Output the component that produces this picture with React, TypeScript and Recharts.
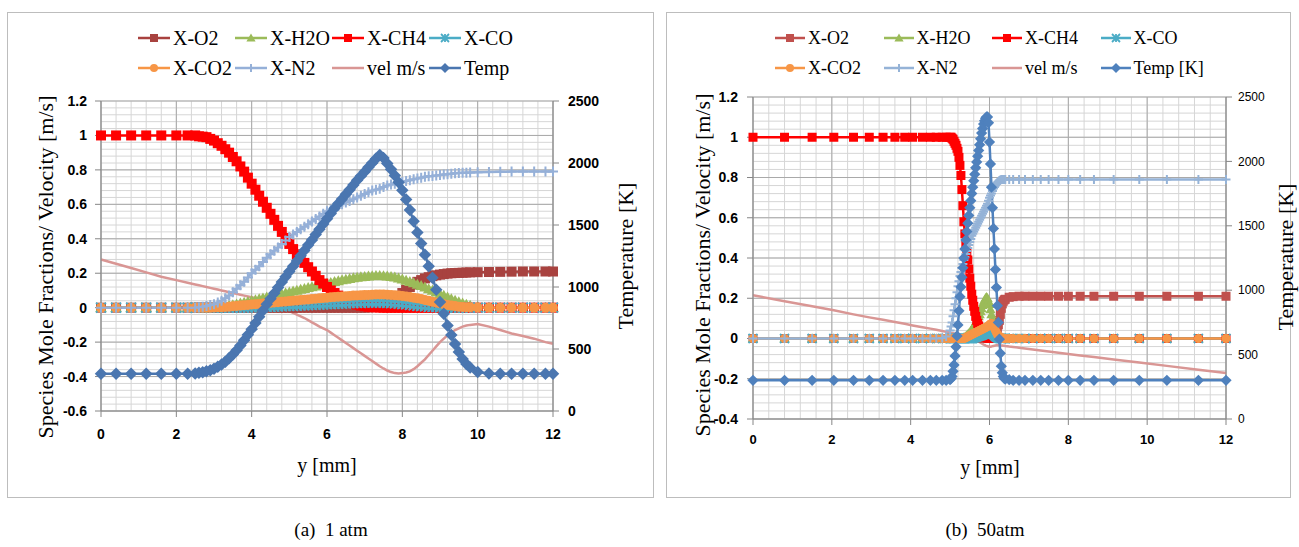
import React from "react";
import { LineChart, Line, XAxis, YAxis, CartesianGrid, Legend } from "recharts";

// ---------- (a) 1 atm ----------
const xA = [
  0, 0.4, 0.8, 1.2, 1.6, 2.0, 2.3, 2.5,
  2.6, 2.7, 2.8, 2.9, 3.0, 3.1, 3.2, 3.3, 3.4, 3.5,
  3.6, 3.7, 3.8, 3.9, 4.0, 4.1, 4.2, 4.3, 4.4, 4.5,
  4.6, 4.7, 4.8, 4.9, 5.0, 5.1, 5.2, 5.3, 5.4, 5.5,
  5.6, 5.7, 5.8, 5.9, 6.0, 6.1, 6.2, 6.3, 6.4, 6.5,
  6.6, 6.7, 6.8, 6.9, 7.0, 7.1, 7.2, 7.3, 7.4, 7.5,
  7.6, 7.7, 7.8, 7.9, 8.0, 8.1, 8.2, 8.3, 8.4, 8.5,
  8.6, 8.7, 8.8, 8.9, 9.0, 9.1, 9.2, 9.3, 9.4, 9.5,
  9.6, 9.7, 9.8,
  10.0, 10.3, 10.6, 10.9, 11.2, 11.5, 11.8, 12.0,
];
const o2A = [
  0, 0, 0, 0, 0, 0, 0, 0,
  0, 0, 0, 0, 0, 0, 0, 0, 0, 0,
  0, 0, 0, 0, 0, 0, 0, 0, 0, 0,
  0, 0, 0, 0, 0, 0, 0, 0, 0, 0,
  0, 0, 0, 0, 0, 0, 0, 0, 0, 0,
  0, 0, 0, 0, 0, 0.001, 0.003, 0.005, 0.008, 0.014,
  0.022, 0.035, 0.05, 0.067, 0.085, 0.103, 0.12, 0.135, 0.15, 0.16,
  0.17, 0.177, 0.183, 0.188, 0.192, 0.195, 0.198, 0.2, 0.201, 0.202,
  0.203, 0.204, 0.205,
  0.206, 0.207, 0.208, 0.209, 0.21, 0.21, 0.21, 0.21,
];
const h2oA = [
  0, 0, 0, 0, 0, 0, 0, 0,
  0, 0, 0, 0.001, 0.002, 0.004, 0.006, 0.009, 0.012, 0.016,
  0.02, 0.025, 0.03, 0.035, 0.04, 0.045, 0.05, 0.055, 0.06, 0.065,
  0.07, 0.075, 0.08, 0.085, 0.09, 0.095, 0.1, 0.105, 0.11, 0.115,
  0.12, 0.125, 0.13, 0.135, 0.14, 0.145, 0.15, 0.155, 0.16, 0.164,
  0.168, 0.172, 0.175, 0.178, 0.18, 0.182, 0.184, 0.185, 0.185, 0.184,
  0.183, 0.18, 0.176, 0.171, 0.165, 0.158, 0.15, 0.143, 0.135, 0.127,
  0.118, 0.109, 0.1, 0.09, 0.08, 0.07, 0.06, 0.051, 0.042, 0.033,
  0.025, 0.018, 0.012,
  0.005, 0.001, 0, 0, 0, 0, 0, 0,
];
const ch4A = [
  1, 1, 1, 1, 1, 1, 1, 1,
  0.995, 0.993, 0.99, 0.98, 0.97, 0.955, 0.94, 0.92, 0.9, 0.875,
  0.85, 0.82, 0.79, 0.755, 0.72, 0.685, 0.65, 0.615, 0.58, 0.545,
  0.51, 0.475, 0.44, 0.405, 0.37, 0.34, 0.31, 0.285, 0.26, 0.235,
  0.21, 0.185, 0.16, 0.14, 0.12, 0.1, 0.085, 0.07, 0.055, 0.044,
  0.033, 0.025, 0.018, 0.012, 0.008, 0.005, 0.003, 0.002, 0.001, 0,
  0, 0, 0, 0, 0, 0, 0, 0, 0, 0,
  0, 0, 0, 0, 0, 0, 0, 0, 0, 0,
  0, 0, 0,
  0, 0, 0, 0, 0, 0, 0, 0,
];
const coA = [
  0, 0, 0, 0, 0, 0, 0, 0,
  0, 0, 0, 0, 0, 0, 0, 0, 0, 0,
  0, 0, 0.001, 0.001, 0.002, 0.002, 0.003, 0.003, 0.004, 0.005,
  0.006, 0.007, 0.008, 0.009, 0.01, 0.011, 0.012, 0.013, 0.014, 0.015,
  0.016, 0.017, 0.018, 0.019, 0.02, 0.021, 0.022, 0.023, 0.024, 0.025,
  0.026, 0.027, 0.028, 0.028, 0.029, 0.03, 0.03, 0.03, 0.03, 0.029,
  0.028, 0.027, 0.025, 0.023, 0.021, 0.019, 0.016, 0.013, 0.011, 0.009,
  0.007, 0.005, 0.004, 0.003, 0.002, 0.001, 0.001, 0, 0, 0,
  0, 0, 0,
  0, 0, 0, 0, 0, 0, 0, 0,
];
const co2A = [
  0, 0, 0, 0, 0, 0, 0, 0,
  0, 0, 0, 0, 0.001, 0.002, 0.003, 0.004, 0.006, 0.008,
  0.01, 0.012, 0.014, 0.016, 0.018, 0.02, 0.022, 0.024, 0.026, 0.028,
  0.03, 0.032, 0.034, 0.036, 0.038, 0.04, 0.042, 0.044, 0.046, 0.048,
  0.05, 0.052, 0.054, 0.056, 0.058, 0.06, 0.062, 0.064, 0.065, 0.067,
  0.068, 0.07, 0.071, 0.072, 0.073, 0.074, 0.075, 0.076, 0.076, 0.076,
  0.075, 0.074, 0.072, 0.07, 0.068, 0.065, 0.062, 0.058, 0.054, 0.05,
  0.045, 0.04, 0.035, 0.03, 0.025, 0.02, 0.016, 0.012, 0.009, 0.006,
  0.004, 0.003, 0.002,
  0.001, 0, 0, 0, 0, 0, 0, 0,
];
const n2A = [
  0, 0, 0, 0, 0, 0, 0, 0,
  0.003, 0.006, 0.01, 0.015, 0.02, 0.03, 0.04, 0.055, 0.07, 0.09,
  0.11, 0.13, 0.15, 0.175, 0.2, 0.22, 0.24, 0.265, 0.29, 0.31,
  0.33, 0.35, 0.37, 0.39, 0.41, 0.425, 0.44, 0.455, 0.47, 0.485,
  0.5, 0.515, 0.53, 0.545, 0.56, 0.57, 0.58, 0.59, 0.6, 0.61,
  0.62, 0.63, 0.64, 0.65, 0.66, 0.67, 0.68, 0.685, 0.69, 0.7,
  0.71, 0.715, 0.72, 0.725, 0.73, 0.735, 0.74, 0.745, 0.75, 0.755,
  0.76, 0.763, 0.765, 0.768, 0.77, 0.773, 0.775, 0.778, 0.78, 0.782,
  0.783, 0.784, 0.785,
  0.787, 0.788, 0.789, 0.79, 0.79, 0.79, 0.79, 0.79,
];
const velA = [
  0.28, 0.255, 0.23, 0.205, 0.18, 0.16, 0.145, 0.135,
  0.13, 0.125, 0.12, 0.115, 0.11, 0.105, 0.1, 0.095, 0.09, 0.085,
  0.08, 0.075, 0.07, 0.065, 0.06, 0.055, 0.05, 0.043, 0.035, 0.028,
  0.02, 0.01, 0.0, -0.01, -0.02, -0.03, -0.04, -0.05, -0.06, -0.072,
  -0.085, -0.097, -0.11, -0.12, -0.13, -0.145, -0.16, -0.175, -0.19, -0.205,
  -0.22, -0.235, -0.25, -0.265, -0.28, -0.295, -0.31, -0.325, -0.34, -0.353,
  -0.365, -0.374, -0.38, -0.382, -0.38, -0.376, -0.37, -0.357, -0.34, -0.32,
  -0.3, -0.275, -0.25, -0.225, -0.2, -0.18, -0.16, -0.145, -0.13, -0.12,
  -0.11, -0.104, -0.1,
  -0.095, -0.11, -0.13, -0.15, -0.165, -0.18, -0.2, -0.21,
];
const tempA = [
  300, 300, 300, 300, 300, 300, 301, 303,
  308, 313, 320, 329, 340, 356, 375, 398, 425, 455,
  490, 528, 570, 614, 660, 710, 760, 810, 860, 905,
  950, 995, 1040, 1083, 1125, 1168, 1210, 1253, 1295, 1338,
  1380, 1423, 1465, 1508, 1550, 1593, 1635, 1673, 1710, 1748,
  1785, 1823, 1860, 1895, 1930, 1965, 2000, 2035, 2065, 2040,
  1995, 1950, 1900, 1845, 1780, 1705, 1620, 1530, 1440, 1350,
  1260, 1168, 1075, 978, 880, 785, 690, 612, 540, 475,
  420, 380, 350,
  315, 302, 300, 300, 300, 300, 300, 300,
];

// ---------- (b) 50 atm ----------
const xB = [
  0, 0.8, 1.5, 2.05, 2.55, 2.95, 3.3, 3.6, 3.85, 4.05, 4.3, 4.5, 4.65, 4.8, 4.9,
  5.0, 5.025, 5.05, 5.075, 5.1, 5.125, 5.15, 5.175,
  5.2, 5.225, 5.25, 5.275, 5.3, 5.325, 5.35, 5.375,
  5.4, 5.425, 5.45, 5.475, 5.5, 5.525, 5.55, 5.575,
  5.6, 5.625, 5.65, 5.675, 5.7, 5.725, 5.75, 5.775,
  5.8, 5.825, 5.85, 5.875, 5.9, 5.925, 5.95, 5.975,
  6.0, 6.025, 6.05, 6.075, 6.1, 6.125, 6.15, 6.175,
  6.2, 6.225, 6.25, 6.275, 6.3, 6.325, 6.35, 6.375,
  6.4,
  6.5, 6.6, 6.75, 6.9, 7.1, 7.3, 7.5, 7.75, 8.0, 8.3, 8.65, 9.15, 9.8, 10.5, 11.3, 12,
];
const o2B = [
  0, 0, 0, 0, 0, 0, 0, 0, 0, 0, 0, 0, 0, 0, 0,
  0, 0, 0, 0, 0, 0, 0, 0,
  0, 0, 0, 0, 0, 0, 0, 0,
  0, 0, 0, 0, 0, 0, 0, 0,
  0, 0, 0, 0, 0, 0, 0, 0,
  0, 0, 0, 0, 0, 0, 0, 0,
  0, 0.001, 0.003, 0.006, 0.01, 0.016, 0.025, 0.036,
  0.05, 0.068, 0.09, 0.12, 0.15, 0.172, 0.185, 0.192,
  0.195,
  0.205, 0.208, 0.21, 0.21, 0.21, 0.21, 0.21, 0.21, 0.21, 0.21, 0.21, 0.21, 0.21, 0.21, 0.21, 0.21,
];
const h2oB = [
  0, 0, 0, 0, 0, 0, 0, 0, 0, 0, 0, 0, 0, 0, 0,
  0, 0, 0, 0, 0, 0, 0, 0,
  0, 0, 0, 0, 0, 0, 0.005, 0.007,
  0.01, 0.015, 0.02, 0.025, 0.03, 0.037, 0.045, 0.052,
  0.06, 0.07, 0.08, 0.09, 0.1, 0.11, 0.12, 0.135,
  0.15, 0.165, 0.18, 0.19, 0.2, 0.205, 0.2, 0.185,
  0.17, 0.145, 0.12, 0.095, 0.07, 0.05, 0.035, 0.025,
  0.015, 0.01, 0.005, 0.002, 0, 0, 0, 0,
  0,
  0, 0, 0, 0, 0, 0, 0, 0, 0, 0, 0, 0, 0, 0, 0, 0,
];
const ch4B = [
  1, 1, 1, 1, 1, 1, 1, 1, 1, 1, 1, 1, 1, 1, 1,
  1, 1, 0.995, 0.99, 0.98, 0.97, 0.96, 0.945,
  0.93, 0.9, 0.86, 0.81, 0.74, 0.66, 0.58, 0.52,
  0.47, 0.43, 0.39, 0.345, 0.3, 0.26, 0.22, 0.19,
  0.16, 0.135, 0.11, 0.09, 0.075, 0.062, 0.05, 0.04,
  0.03, 0.022, 0.015, 0.011, 0.008, 0.005, 0.003, 0.002,
  0.001, 0, 0, 0, 0, 0, 0, 0,
  0, 0, 0, 0, 0, 0, 0, 0,
  0,
  0, 0, 0, 0, 0, 0, 0, 0, 0, 0, 0, 0, 0, 0, 0, 0,
];
const coB = [
  0, 0, 0, 0, 0, 0, 0, 0, 0, 0, 0, 0, 0, 0, 0,
  0, 0, 0, 0, 0, 0, 0, 0,
  0, 0, 0, 0, 0, 0, 0, 0,
  0, 0, 0, 0, 0, 0, 0, 0,
  0.003, 0.004, 0.006, 0.008, 0.01, 0.011, 0.013, 0.014,
  0.016, 0.018, 0.02, 0.022, 0.024, 0.025, 0.027, 0.028,
  0.03, 0.03, 0.028, 0.024, 0.02, 0.015, 0.01, 0.007,
  0.004, 0.002, 0.001, 0, 0, 0, 0, 0,
  0,
  0, 0, 0, 0, 0, 0, 0, 0, 0, 0, 0, 0, 0, 0, 0, 0,
];
const co2B = [
  0, 0, 0, 0, 0, 0, 0, 0, 0, 0, 0, 0, 0, 0, 0,
  0, 0, 0, 0, 0, 0, 0, 0,
  0, 0, 0, 0, 0, 0, 0, 0.002,
  0.005, 0.007, 0.01, 0.012, 0.015, 0.017, 0.02, 0.022,
  0.025, 0.027, 0.03, 0.032, 0.035, 0.037, 0.04, 0.042,
  0.045, 0.047, 0.05, 0.052, 0.055, 0.057, 0.06, 0.064,
  0.068, 0.072, 0.075, 0.068, 0.06, 0.05, 0.04, 0.03,
  0.02, 0.015, 0.01, 0.007, 0.004, 0.002, 0.001, 0,
  0,
  0, 0, 0, 0, 0, 0, 0, 0, 0, 0, 0, 0, 0, 0, 0, 0,
];
const n2B = [
  0, 0, 0, 0, 0, 0, 0, 0, 0, 0, 0, 0, 0, 0.002, 0.01,
  0.04, 0.06, 0.08, 0.11, 0.14, 0.17, 0.2, 0.23,
  0.26, 0.285, 0.31, 0.33, 0.35, 0.37, 0.39, 0.405,
  0.42, 0.435, 0.45, 0.465, 0.48, 0.495, 0.51, 0.52,
  0.53, 0.54, 0.55, 0.56, 0.57, 0.58, 0.59, 0.6,
  0.61, 0.62, 0.63, 0.64, 0.65, 0.66, 0.67, 0.685,
  0.7, 0.71, 0.72, 0.733, 0.745, 0.753, 0.76, 0.768,
  0.775, 0.78, 0.785, 0.788, 0.79, 0.79, 0.79, 0.79,
  0.79,
  0.79, 0.79, 0.79, 0.79, 0.79, 0.79, 0.79, 0.79, 0.79, 0.79, 0.79, 0.79, 0.79, 0.79, 0.79, 0.79,
];
const velB = [
  0.215, 0.185, 0.16, 0.14, 0.12, 0.105, 0.093, 0.082, 0.073, 0.065, 0.056, 0.049, 0.043, 0.037, 0.033,
  0.029, 0.028, 0.027, 0.026, 0.025, 0.024, 0.023, 0.022,
  0.021, 0.02, 0.019, 0.018, 0.017, 0.016, 0.015, 0.014,
  0.012, 0.011, 0.009, 0.008, 0.006, 0.004, 0.002, 0.0,
  -0.003, -0.005, -0.008, -0.01, -0.013, -0.015, -0.018, -0.021,
  -0.024, -0.027, -0.03, -0.032, -0.035, -0.037, -0.039, -0.04,
  -0.041, -0.041, -0.04, -0.038, -0.037, -0.036, -0.035, -0.034,
  -0.034, -0.034, -0.034, -0.034, -0.035, -0.035, -0.036, -0.036,
  -0.037,
  -0.04, -0.042, -0.046, -0.05, -0.055, -0.06, -0.065, -0.071, -0.077, -0.084, -0.092, -0.104, -0.119, -0.136, -0.155, -0.172,
];
const tempB = [
  300, 300, 300, 300, 300, 300, 300, 300, 300, 300, 300, 300, 300, 300, 300,
  305, 315, 330, 370, 420, 490, 560, 645,
  730, 840, 950, 1025, 1100, 1175, 1250, 1320,
  1390, 1455, 1520, 1580, 1640, 1695, 1750, 1800,
  1850, 1900, 1950, 1995, 2040, 2085, 2130, 2175,
  2220, 2255, 2290, 2315, 2335, 2345, 2345, 2300,
  2150, 1980, 1800, 1640, 1480, 1320, 1160, 1020,
  880, 750, 620, 510, 410, 360, 330, 315,
  310,
  305, 300, 300, 300, 300, 300, 300, 300, 300, 300, 300, 300, 300, 300, 300, 300,
];

// ---------- axes ----------
const xTicks = [0, 2, 4, 6, 8, 10, 12];
const tempTicks = [0, 500, 1000, 1500, 2000, 2500];
const leftTicksA = [-0.6, -0.4, -0.2, 0, 0.2, 0.4, 0.6, 0.8, 1, 1.2];
const leftTicksB = [-0.4, -0.2, 0, 0.2, 0.4, 0.6, 0.8, 1, 1.2];
const namesA = ["X-O2", "X-H2O", "X-CH4", "X-CO", "X-CO2", "X-N2", "vel m/s", "Temp"];
const namesB = ["X-O2", "X-H2O", "X-CH4", "X-CO", "X-CO2", "X-N2", "vel m/s", "Temp [K]"];

// grid line positions (minor = major / 5, like Excel)
const steps = (from: number, to: number, step: number) => {
  const out: number[] = [];
  const n = Math.round((to - from) / step);
  for (let i = 0; i <= n; i++) out.push(Math.round((from + i * step) * 1000) / 1000);
  return out;
};

const keys = ["o2", "h2o", "ch4", "co", "co2", "n2", "vel", "temp"];
const shapes = ["square", "triangle", "square", "star", "circle", "plus", "", "diamond"];

const makeRows = (x: number[], cols: number[][]) =>
  x.map((v, i) => {
    const row: any = { x: v };
    keys.forEach((k, j) => (row[k] = cols[j][i]));
    return row;
  });

const rowsA = makeRows(xA, [o2A, h2oA, ch4A, coA, co2A, n2A, velA, tempA]);
const rowsB = makeRows(xB, [o2B, h2oB, ch4B, coB, co2B, n2B, velB, tempB]);

const colorsA = ["#A8423F", "#9BBB59", "#FF0000", "#4BACC6", "#F79646", "#95B0D8", "#D99694", "#4A76B0"];
const colorsB = ["#C0504D", "#9BBB59", "#FF0000", "#4BACC6", "#F79646", "#95B3D7", "#D99694", "#4F81BD"];

function Marker({ shape, cx, cy, r, color }: any) {
  if (cx == null || cy == null) return <g />;
  switch (shape) {
    case "square":
      return <rect x={cx - r} y={cy - r} width={2 * r} height={2 * r} fill={color} />;
    case "diamond":
      return (
        <polygon
          points={`${cx},${cy - r * 1.25} ${cx + r * 1.25},${cy} ${cx},${cy + r * 1.25} ${cx - r * 1.25},${cy}`}
          fill={color}
        />
      );
    case "triangle":
      return (
        <polygon
          points={`${cx},${cy - r * 1.15} ${cx + r * 1.15},${cy + r * 0.85} ${cx - r * 1.15},${cy + r * 0.85}`}
          fill={color}
        />
      );
    case "circle":
      return <circle cx={cx} cy={cy} r={r} fill={color} />;
    case "plus":
      return (
        <path d={`M${cx - r},${cy}H${cx + r}M${cx},${cy - r}V${cy + r}`} stroke={color} strokeWidth={2} />
      );
    case "star":
      return (
        <path
          d={`M${cx - r},${cy - r}L${cx + r},${cy + r}M${cx + r},${cy - r}L${cx - r},${cy + r}M${cx},${cy - r}V${cy + r}`}
          stroke={color}
          strokeWidth={1.8}
        />
      );
    default:
      return <g />;
  }
}

const TICK = "'Liberation Sans', Arial, sans-serif";
const SERIF = "'Liberation Serif', 'Times New Roman', serif";

function Panel(p: any) {
  const minorX = steps(0, 12, 0.4);
  const minorY = steps(p.yMin, 1.2, 0.04);
  const majorY = p.leftTicks;
  return (
    <div style={{ position: "absolute", left: p.left, top: 0 }}>
      <LineChart width={p.width} height={p.height} data={p.rows} margin={p.margin}>
        <CartesianGrid yAxisId="l" horizontalValues={minorY} verticalValues={minorX} stroke="#D6D6D6" strokeWidth={1} />
        <CartesianGrid yAxisId="l" horizontalValues={majorY} verticalValues={xTicks} stroke="#A9A9A9" strokeWidth={1} />
        <XAxis
          dataKey="x"
          type="number"
          domain={[0, 12]}
          ticks={xTicks}
          interval={0}
          height={60}
          stroke="#868686"
          tickSize={6}
          tickMargin={p.xTickMargin}
          tick={{ fill: "#000", fontFamily: TICK, fontWeight: "bold", fontSize: p.xTickSize }}
          label={() => (
            <text x={p.xTitle[0]} y={p.xTitle[1]} textAnchor="middle" dominantBaseline="central"
              style={{ fontFamily: SERIF, fontSize: 20, fill: "#000" }}>
              y [mm]
            </text>
          )}
        />
        <YAxis
          yAxisId="l"
          type="number"
          domain={[p.yMin, 1.2]}
          ticks={p.leftTicks}
          interval={0}
          allowDataOverflow
          width={p.leftW}
          stroke="#868686"
          tickSize={6}
          tickMargin={p.leftTickMargin}
          tick={{ fill: "#000", fontFamily: TICK, fontWeight: "bold", fontSize: 14 }}
          label={() => (
            <text x={p.leftTitle[0]} y={p.leftTitle[1]} textAnchor="middle" dominantBaseline="central"
              transform={`rotate(-90 ${p.leftTitle[0]} ${p.leftTitle[1]})`}
              style={{ fontFamily: SERIF, fontSize: 22, fill: "#000" }}>
              Species Mole Fractions/ Velocity [m/s]
            </text>
          )}
        />
        <YAxis
          yAxisId="r"
          orientation="right"
          type="number"
          domain={[0, 2500]}
          ticks={tempTicks}
          interval={0}
          allowDataOverflow
          width={p.rightW}
          stroke="#868686"
          tickSize={6}
          tickMargin={p.rightTickMargin}
          tick={{ fill: "#000", fontFamily: TICK, fontWeight: p.rightTickWeight, fontSize: p.rightTickSize }}
          label={() => (
            <text x={p.rightTitle[0]} y={p.rightTitle[1]} textAnchor="middle" dominantBaseline="central"
              transform={`rotate(-90 ${p.rightTitle[0]} ${p.rightTitle[1]})`}
              style={{ fontFamily: SERIF, fontSize: 22, fill: "#000" }}>
              Temperature [K]
            </text>
          )}
        />
        <Legend
          layout="vertical"
          align="center"
          verticalAlign="middle"
          wrapperStyle={{ left: p.legendLeft, top: p.legendTop, width: p.legendCol * 4 + 20 }}
          content={() => (
            <div style={{ display: "grid", gridTemplateColumns: `repeat(4, ${p.legendCol}px)` }}>
              {keys.map((k, i) => (
                <div key={k} style={{ display: "flex", alignItems: "center", height: 30, whiteSpace: "nowrap" }}>
                  <svg width={p.legendLine} height={16} style={{ flex: "none" }}>
                    <line x1={0} y1={8} x2={p.legendLine} y2={8} stroke={p.colors[i]} strokeWidth={2.5} />
                    <Marker shape={shapes[i]} cx={p.legendLine / 2} cy={8} r={4} color={p.colors[i]} />
                  </svg>
                  <span style={{ fontFamily: SERIF, fontSize: p.legendFont, marginLeft: 3, color: "#000" }}>
                    {p.names[i]}
                  </span>
                </div>
              ))}
            </div>
          )}
        />
        {keys.map((k, i) => (
          <Line
            key={k}
            yAxisId={k === "temp" ? "r" : "l"}
            dataKey={k}
            name={p.names[i]}
            type="linear"
            stroke={p.colors[i]}
            strokeWidth={2.5}
            isAnimationActive={false}
            dot={
              shapes[i]
                ? (d: any) => (
                    <Marker key={`${k}-${d.index}`} shape={shapes[i]} cx={d.cx} cy={d.cy} r={p.markerR} color={p.colors[i]} />
                  )
                : false
            }
            activeDot={false}
          />
        ))}
      </LineChart>
    </div>
  );
}

export default function App() {
  return (
    <div style={{ position: "absolute", left: 0, top: 0, width: 1299, height: 547, background: "#fff", overflow: "hidden" }}>
      <div style={{ position: "absolute", left: 7, top: 12, width: 647, height: 486, boxSizing: "border-box", border: "1.5px solid #BDBDBD" }} />
      <div style={{ position: "absolute", left: 666, top: 12, width: 625, height: 486, boxSizing: "border-box", border: "1.5px solid #BDBDBD" }} />
      <Panel
        left={0}
        width={660}
        height={500}
        rows={rowsA}
        margin={{ top: 101, right: 20, bottom: 29, left: 30 }}
        leftW={71}
        rightW={87}
        yMin={-0.6}
        leftTicks={leftTicksA}
        xTickMargin={12}
        xTickSize={14}
        leftTickMargin={8}
        rightTickMargin={9}
        rightTickSize={14}
        rightTickWeight="bold"
        xTitle={[327, 465]}
        leftTitle={[45, 267]}
        rightTitle={[625, 256]}
        legendLeft={138}
        legendTop={23}
        legendCol={97}
        legendLine={32}
        legendFont={20}
        colors={colorsA}
        names={namesA}
        markerR={5}
      />
      <Panel
        left={660}
        width={639}
        height={500}
        rows={rowsB}
        margin={{ top: 97, right: 10, bottom: 21, left: 20 }}
        leftW={73}
        rightW={63}
        yMin={-0.4}
        leftTicks={leftTicksB}
        xTickMargin={10}
        xTickSize={13}
        leftTickMargin={9}
        rightTickMargin={6}
        rightTickSize={12}
        rightTickWeight="normal"
        xTitle={[330, 467]}
        leftTitle={[42, 265]}
        rightTitle={[625, 257]}
        legendLeft={115}
        legendTop={23}
        legendCol={108.5}
        legendLine={30}
        legendFont={18}
        colors={colorsB}
        names={namesB}
        markerR={4.5}
      />
      <div style={{ position: "absolute", left: 231, width: 200, top: 519, textAlign: "center", fontFamily: SERIF, fontSize: 19, whiteSpace: "pre" }}>
        (a)  1 atm
      </div>
      <div style={{ position: "absolute", left: 885, width: 200, top: 519, textAlign: "center", fontFamily: SERIF, fontSize: 19, whiteSpace: "pre" }}>
        (b)  50atm
      </div>
    </div>
  );
}
